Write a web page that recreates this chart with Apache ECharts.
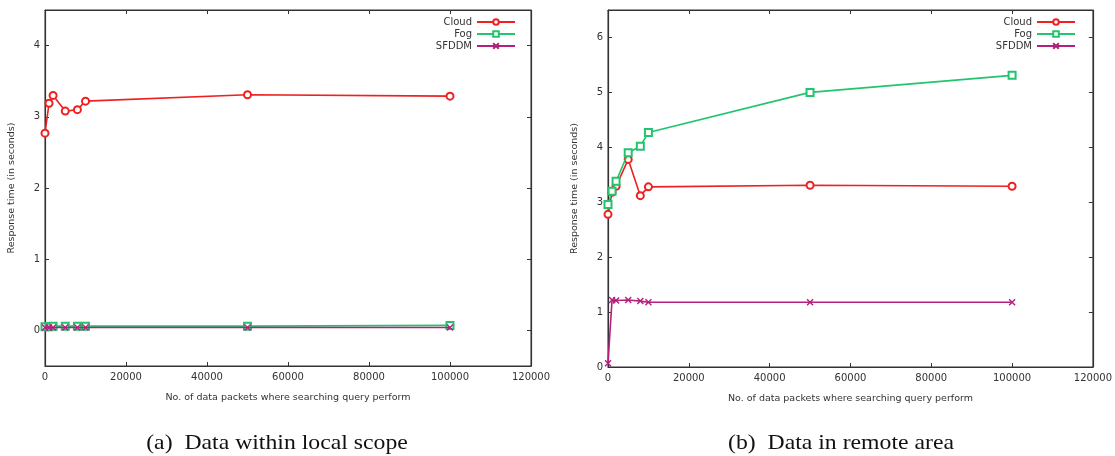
<!DOCTYPE html>
<html>
<head>
<meta charset="utf-8">
<script src="https://cdn.jsdelivr.net/npm/echarts@6/dist/echarts.min.js"></script>
<style>
html,body{margin:0;padding:0;background:#fff;}
#chart{width:1115px;height:456px;}
</style>
</head>
<body>
<div id="chart"></div>
<script>
// ---- data ----
const packets = [0, 1000, 2000, 5000, 8000, 10000, 50000, 100000];
const seriesNames = ['Cloud', 'Fog', 'SFDDM'];
// (a) Data within local scope
const cloudLocal = [2.77, 3.19, 3.30, 3.08, 3.10, 3.22, 3.31, 3.29];
const fogLocal   = [0.05, 0.05, 0.06, 0.06, 0.06, 0.06, 0.06, 0.07];
const sfddmLocal = [0.04, 0.04, 0.04, 0.04, 0.04, 0.04, 0.04, 0.04];
// (b) Data in remote area
const cloudRemote = [2.78, 3.18, 3.29, 3.78, 3.12, 3.28, 3.31, 3.29];
const fogRemote   = [2.96, 3.20, 3.38, 3.90, 4.02, 4.27, 5.00, 5.31];
const sfddmRemote = [0.07, 1.22, 1.21, 1.22, 1.20, 1.18, 1.18, 1.18];
// tick labels
const xTicks = [0, 20000, 40000, 60000, 80000, 100000, 120000];
const yTicksLocal = [0, 1, 2, 3, 4];
const yTicksRemote = [0, 1, 2, 3, 4, 5, 6];
const xTitle = 'No. of data packets where searching query perform';
const yTitle = 'Response time (in seconds)';
const captions = ['(a)  Data within local scope', '(b)  Data in remote area'];

// ---- styling ----
const colors = { Cloud: '#ee2020', Fog: '#22c46e', SFDDM: '#b51f7e' };
const symbols = { Cloud: 'emptyCircle', Fog: 'emptyRect', SFDDM: 'path://M0,0L10,10M10,0L0,10' };
const font = 'DejaVu Sans';
const axisColor = '#333';

function pairs(ys) { return packets.map((x, i) => [x, ys[i]]); }
const plain = v => String(v);

const grids = [
  { left: 45, top: 10, width: 486, height: 356 },
  { left: 608, top: 10, width: 485, height: 357 }
];
const yRanges = [
  { min: -0.5, max: 4.5, ticks: yTicksLocal },
  { min: 0, max: 6.5, ticks: yTicksRemote }
];

const xAxes = [], yAxes = [];
grids.forEach((g, gi) => {
  xAxes.push({
    type: 'value', gridIndex: gi, min: 0, max: 120000, interval: 20000,
    position: 'bottom',
    name: xTitle, nameLocation: 'middle', nameGap: 27,
    nameTextStyle: { fontFamily: font, fontSize: 9.5, color: '#333' },
    axisLine: { show: true, onZero: false, lineStyle: { color: axisColor, width: 1.2 } },
    axisTick: { show: true, inside: true, length: 4, lineStyle: { color: axisColor }, customValues: xTicks },
    axisLabel: { fontFamily: font, fontSize: 10, color: '#333', margin: 6, formatter: plain,
      customValues: xTicks },
    splitLine: { show: false }
  });
  xAxes.push({
    type: 'value', gridIndex: gi, min: 0, max: 120000, interval: 20000,
    position: 'top',
    axisLine: { show: true, onZero: false, lineStyle: { color: axisColor, width: 1.2 } },
    axisTick: { show: true, inside: true, length: 4, lineStyle: { color: axisColor }, customValues: xTicks },
    axisLabel: { show: false },
    splitLine: { show: false }
  });
  const yr = yRanges[gi];
  yAxes.push({
    type: 'value', gridIndex: gi, min: yr.min, max: yr.max,
    position: 'left',
    name: yTitle, nameLocation: 'middle', nameGap: 28, nameRotate: 90,
    nameTextStyle: { fontFamily: font, fontSize: 9.5, color: '#333' },
    axisLine: { show: true, onZero: false, lineStyle: { color: axisColor, width: 1.2 } },
    axisTick: { show: true, inside: true, length: 4, lineStyle: { color: axisColor }, customValues: yr.ticks },
    axisLabel: { fontFamily: font, fontSize: 10, color: '#333', margin: 5, formatter: plain, customValues: yr.ticks },
    splitLine: { show: false }
  });
  yAxes.push({
    type: 'value', gridIndex: gi, min: yr.min, max: yr.max,
    position: 'right',
    axisLine: { show: true, onZero: false, lineStyle: { color: axisColor, width: 1.2 } },
    axisTick: { show: true, inside: true, length: 4, lineStyle: { color: axisColor }, customValues: yr.ticks },
    axisLabel: { show: false },
    splitLine: { show: false }
  });
});

const datasets = [
  { Cloud: cloudLocal, Fog: fogLocal, SFDDM: sfddmLocal },
  { Cloud: cloudRemote, Fog: fogRemote, SFDDM: sfddmRemote }
];

const series = [];
datasets.forEach((ds, gi) => {
  seriesNames.forEach((name, si) => {
    const c = colors[name];
    series.push({
      name: name, type: 'line',
      xAxisIndex: gi * 2, yAxisIndex: gi * 2,
      data: pairs(ds[name]),
      symbol: symbols[name],
      symbolSize: name === 'SFDDM' ? 6 : 7,
      showAllSymbol: true,
      lineStyle: { color: c, width: 1.6 },
      itemStyle: { color: c, borderColor: c, borderWidth: 1.4 },
      emphasis: { disabled: true },
      z: 2 + si,
      animation: false
    });
  });
});

const legendBase = {
  orient: 'vertical', align: 'right', top: 12,
  itemWidth: 38, itemHeight: 7, itemGap: 2,
  textStyle: { fontFamily: font, fontSize: 10, color: '#333' },
  selectedMode: false,
  data: seriesNames
};

const option = {
  backgroundColor: '#fff',
  animation: false,
  grid: grids.map(g => Object.assign({ show: true, borderColor: axisColor, borderWidth: 1, backgroundColor: 'transparent' }, g)),
  xAxis: xAxes,
  yAxis: yAxes,
  legend: [
    Object.assign({}, legendBase, { right: 594 }),
    Object.assign({}, legendBase, { right: 34 })
  ],
  series: series,
  graphic: [
    { type: 'text', x: 277, y: 443, scaleX: 1.13, style: { text: captions[0], font: '21px "Liberation Serif"', fill: '#111', align: 'center', verticalAlign: 'middle' } },
    { type: 'text', x: 841, y: 443, scaleX: 1.13, style: { text: captions[1], font: '21px "Liberation Serif"', fill: '#111', align: 'center', verticalAlign: 'middle' } }
  ]
};

const chart = echarts.init(document.getElementById('chart'), null, { renderer: 'canvas' });
chart.setOption(option);
</script>
</body>
</html>
